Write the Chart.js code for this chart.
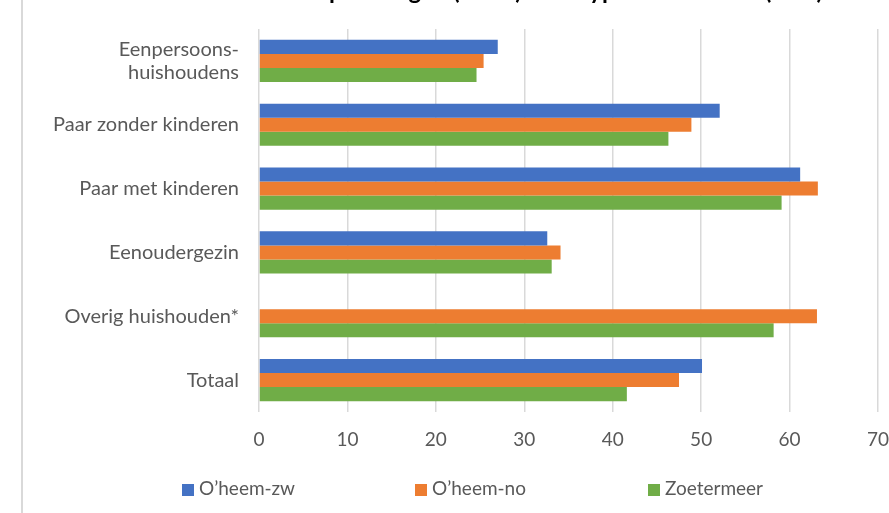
<!DOCTYPE html>
<html>
<head>
<meta charset="utf-8">
<script src="https://cdn.jsdelivr.net/npm/chart.js@4/dist/chart.umd.min.js"></script>
<style>
  html, body { margin: 0; padding: 0; background: #fff; }
  #wrap { position: relative; width: 889px; height: 513px; overflow: hidden; }
  #frame { position: absolute; left: 21px; top: 0; width: 2px; height: 513px; background: #d9d9d9; z-index: 2; }
  canvas { position: absolute; left: 0; top: 0; }
  .lg { position: absolute; top: 478px; font-family: Lato, "Open Sans", sans-serif; font-size: 19px; color: #595959; white-space: nowrap; line-height: 20px; }
  .lg span.box { display: inline-block; width: 12px; height: 12px; margin-right: 5px; vertical-align: -1px; }
</style>
</head>
<body>
<div id="wrap">
  <div id="frame"></div>
  <canvas id="c" width="905" height="513"></canvas>
  <div id="legend"></div>
</div>
<script>
const titleText = "Aandeel koopwoningen (2019) naar type huishouden (in %)";
const categories = [["Eenpersoons-", "huishoudens"], "Paar zonder kinderen", "Paar met kinderen", "Eenoudergezin", "Overig huishouden*", "Totaal"];
const seriesNames = ["O\u2019heem-zw", "O\u2019heem-no", "Zoetermeer"];
const oheemZw = [27.0, 52.1, 61.2, 32.6, null, 50.1];
const oheemNo = [25.4, 48.9, 63.2, 34.1, 63.1, 47.5];
const zoetermeer = [24.6, 46.3, 59.1, 33.1, 58.2, 41.6];
const xTicks = [0, 10, 20, 30, 40, 50, 60, 70];
const colors = ["#4472C4", "#ED7D31", "#70AD47"];

const FONT = "Lato, 'Open Sans', sans-serif";

const titlePlugin = {
  id: 'cutTitle',
  afterDraw(chart) {
    const ctx = chart.ctx;
    ctx.save();
    ctx.font = "bold 24px " + FONT;
    ctx.fillStyle = "#000";
    ctx.textAlign = "right";
    ctx.textBaseline = "alphabetic";
    ctx.fillText(titleText, 823, -1);
    ctx.restore();
  }
};

const data = {
  labels: categories,
  datasets: [
    { label: seriesNames[0], data: oheemZw, backgroundColor: colors[0] },
    { label: seriesNames[1], data: oheemNo, backgroundColor: colors[1] },
    { label: seriesNames[2], data: zoetermeer, backgroundColor: colors[2] }
  ]
};

new Chart(document.getElementById('c'), {
  type: 'bar',
  data,
  options: {
    indexAxis: 'y',
    responsive: false,
    animation: false,
    devicePixelRatio: 1,
    categoryPercentage: 0.66,
    barPercentage: 1.0,
    layout: { padding: { top: 29, right: 11, bottom: 51, left: 0 } },
    plugins: {
      legend: { display: false },
      title: { display: false },
      tooltip: { enabled: false }
    },
    scales: {
      x: {
        min: 0, max: 70,
        afterBuildTicks(axis) { axis.ticks = xTicks.map(v => ({ value: v })); },
        grid: { color: '#d9d9d9', lineWidth: 1.5, drawTicks: false },
        border: { display: false },
        ticks: { color: '#595959', font: { family: FONT, size: 19 }, padding: 16 },
        afterFit(axis) { axis.height = 50; }
      },
      y: {
        grid: { display: false, drawTicks: false },
        border: { display: false },
        ticks: { color: '#595959', font: { family: FONT, size: 20, lineHeight: 1.15 }, padding: 20, autoSkip: false },
        afterFit(axis) { axis.width = 259; axis.paddingTop = 0; axis.paddingBottom = 0; }
      }
    }
  },
  plugins: [titlePlugin]
});

const legendPos = [182, 415, 648];
const lg = document.getElementById('legend');
seriesNames.forEach((n, i) => {
  const d = document.createElement('div');
  d.className = 'lg';
  d.style.left = legendPos[i] + 'px';
  d.innerHTML = '<span class="box" style="background:' + colors[i] + '"></span>' + n;
  lg.appendChild(d);
});
</script>
</body>
</html>
